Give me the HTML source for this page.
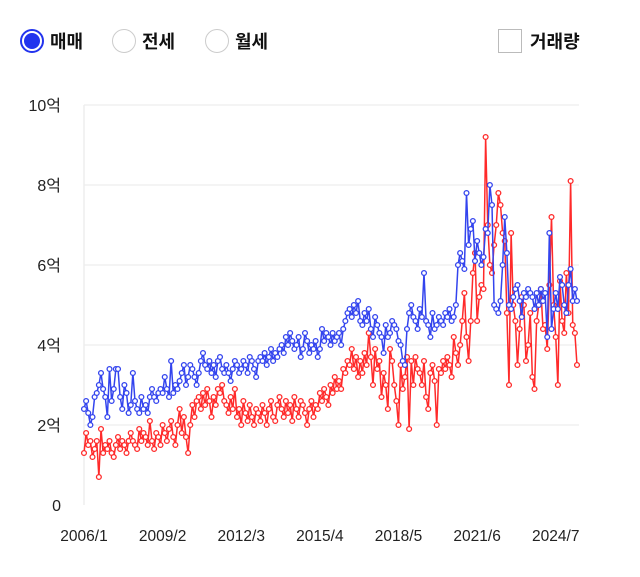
<!DOCTYPE html>
<html><head><meta charset="utf-8"><style>
body{margin:0;width:640px;height:577px;background:#fff;font-family:"Liberation Sans","Noto Sans CJK KR",sans-serif;overflow:hidden;position:relative}
.r{position:absolute;top:28px;display:flex;align-items:center;font-size:18px;font-weight:bold;color:#111}
.c{width:24px;height:24px;border-radius:50%;border:1.5px solid #ccc;box-sizing:border-box;margin-right:6px;display:flex;align-items:center;justify-content:center}
.c.on{border:2px solid #2233ee}.c.on::after{content:"";width:16px;height:16px;border-radius:50%;background:#2233ee}
</style></head><body>
<div class="r" style="left:20px"><span class="c on"></span>매매</div>
<div class="r" style="left:112px"><span class="c"></span>전세</div>
<div class="r" style="left:205px"><span class="c"></span>월세</div>
<div class="r" style="left:498px"><span style="width:24px;height:24px;border:1.5px solid #bbb;box-sizing:border-box;margin-right:8px;display:inline-block"></span>거래량</div>
<svg id="ch" width="640" height="577" style="position:absolute;left:0;top:0"></svg>
<script>
const blue=[2.4,2.6,2.3,2.0,2.2,2.7,2.8,3.0,3.3,2.9,2.7,2.2,
3.4,2.6,2.9,3.4,3.4,2.7,2.4,3.0,2.8,2.3,2.5,3.3,
2.6,2.4,2.3,2.7,2.4,2.5,2.3,2.7,2.9,2.7,2.6,2.8,
2.9,2.8,3.2,2.9,2.7,3.6,2.8,3.0,2.9,3.1,3.3,3.5,
3.0,3.2,3.5,3.4,3.2,3.0,3.3,3.6,3.8,3.5,3.4,3.6,
3.3,3.5,3.2,3.6,3.7,3.4,3.3,3.5,3.3,3.1,3.4,3.6,
3.5,3.3,3.4,3.6,3.5,3.3,3.7,3.6,3.4,3.2,3.6,3.7,
3.6,3.8,3.5,3.7,3.9,3.6,3.8,3.7,3.9,4.0,3.8,4.2,
4.0,4.3,4.1,3.9,4.0,4.2,3.7,3.9,4.3,4.1,3.8,4.0,
3.9,4.1,3.7,3.9,4.4,4.1,4.3,4.2,4.0,4.3,4.1,4.2,
4.3,4.0,4.4,4.6,4.8,4.9,4.7,5.0,4.8,5.1,4.6,4.5,
4.8,4.6,4.9,4.4,4.2,4.7,4.5,4.3,4.2,3.8,4.5,4.2,
4.3,4.6,4.5,4.4,4.1,4.0,3.6,3.5,4.4,4.8,5.0,4.7,
4.6,4.4,4.9,4.7,5.8,4.6,4.5,4.2,4.8,4.4,4.5,4.7,
4.6,4.5,4.8,4.7,4.9,4.6,4.7,5.0,6.0,6.3,6.1,5.9,
7.8,6.5,6.9,7.1,6.1,6.6,6.3,6.0,6.2,6.9,6.8,8.0,
7.5,5.0,4.9,4.8,5.1,6.0,7.2,6.3,5.0,4.9,5.2,5.4,
5.5,5.1,4.7,5.3,5.2,5.4,5.3,5.2,4.9,5.3,5.0,5.4,
5.1,5.3,4.2,6.8,4.4,4.9,5.3,4.9,5.7,5.5,5.0,4.8,
5.5,5.9,5.1,5.4,5.1];
const red=[1.3,1.8,1.5,1.6,1.2,1.4,1.6,0.7,1.9,1.3,1.5,1.4,
1.6,1.3,1.2,1.5,1.7,1.4,1.6,1.5,1.3,1.6,1.8,1.6,
1.5,1.4,1.9,1.6,1.8,1.7,1.5,2.1,1.6,1.4,1.8,1.7,
1.5,2.0,1.8,1.6,1.9,2.1,1.7,1.5,2.0,2.4,1.8,2.2,
1.7,1.3,2.0,2.5,2.2,2.6,2.7,2.4,2.8,2.5,2.9,2.6,
2.2,2.7,2.5,2.9,2.8,3.0,2.6,2.5,2.3,2.7,2.4,2.9,
2.2,2.4,2.0,2.6,2.3,2.1,2.5,2.2,2.0,2.4,2.3,2.1,
2.5,2.3,2.0,2.4,2.6,2.2,2.1,2.5,2.7,2.4,2.2,2.6,
2.3,2.5,2.1,2.7,2.4,2.2,2.6,2.5,2.3,2.0,2.4,2.6,
2.2,2.5,2.4,2.8,2.6,2.9,2.7,2.5,3.0,2.8,3.2,2.9,
3.1,2.9,3.4,3.3,3.6,3.5,3.9,3.4,3.7,3.2,3.6,3.3,
3.8,3.5,4.3,3.7,3.0,3.9,3.4,3.6,2.7,3.3,3.0,2.4,
3.9,3.6,3.0,2.6,2.0,3.5,2.9,3.2,3.7,1.9,3.6,3.0,
3.7,3.4,3.3,3.0,3.6,2.7,2.4,3.3,3.5,3.1,2.0,3.4,
3.3,3.6,3.4,3.7,3.5,3.2,4.2,3.8,3.5,4.0,4.6,5.3,
4.2,3.6,4.6,5.8,6.3,4.6,5.2,5.5,5.4,9.2,7.0,6.0,
5.8,6.5,7.0,7.8,7.5,6.8,6.6,4.8,3.0,6.8,5.0,4.6,
3.5,4.4,5.2,5.0,3.6,4.0,4.8,3.2,2.9,4.6,5.0,5.4,
4.4,4.5,3.9,5.5,7.2,5.0,4.2,3.0,5.6,4.6,4.3,5.8,
4.8,8.1,4.5,4.3,3.5];
const yTicks=[0,2,4,6,8,10];
const yLabels=["0","2억","4억","6억","8억","10억"];
const xLabels=["2006/1","2009/2","2012/3","2015/4","2018/5","2021/6","2024/7"];
const xLabelIdx=[0,37,74,111,148,185,222];
const NS="http://www.w3.org/2000/svg",svg=document.getElementById('ch');
const X0=84,X1=577,Y0=505,Y10=105;
const n=blue.length;
const x=i=>X0+i*(X1-X0)/(n-1);
const y=v=>Y0-(v/10)*(Y0-Y10);
function mk(t,a){const e=document.createElementNS(NS,t);for(const k in a)e.setAttribute(k,a[k]);svg.appendChild(e);return e;}
yTicks.forEach((t,i)=>{
 if(t>0){const g=mk('line',{x1:X0,x2:X1+2,y1:y(t),y2:y(t),stroke:'#f0f0f0','stroke-width':1.5});
 
 }
 const l=mk('text',{x:61,y:y(t)+6,'text-anchor':'end','font-size':16,fill:'#222'});
 l.textContent=yLabels[i];
 
 
});
const ax=mk('line',{x1:X0,x2:X0,y1:Y10,y2:Y0,stroke:'#eee','stroke-width':1.5});


xLabels.forEach((s,i)=>{
 const t=mk('text',{x:x(xLabelIdx[i]),y:541,'text-anchor':'middle','font-size':15.5,fill:'#222'});
 t.textContent=s;
 
 
});
function series(d,c,name){
 const p=mk('polyline',{points:d.map((v,i)=>x(i)+','+y(v)).join(' '),fill:'none',stroke:c,'stroke-width':1.5});
 
 
 d.forEach((v,i)=>{
  const m=mk('circle',{cx:x(i),cy:y(v),r:2.4,fill:'#fff',stroke:c,'stroke-width':1.3});
  
  
 });
}
series(red,'#ff2a2a','red-series');
series(blue,'#3344ee','blue-series');
</script>
</body></html>
